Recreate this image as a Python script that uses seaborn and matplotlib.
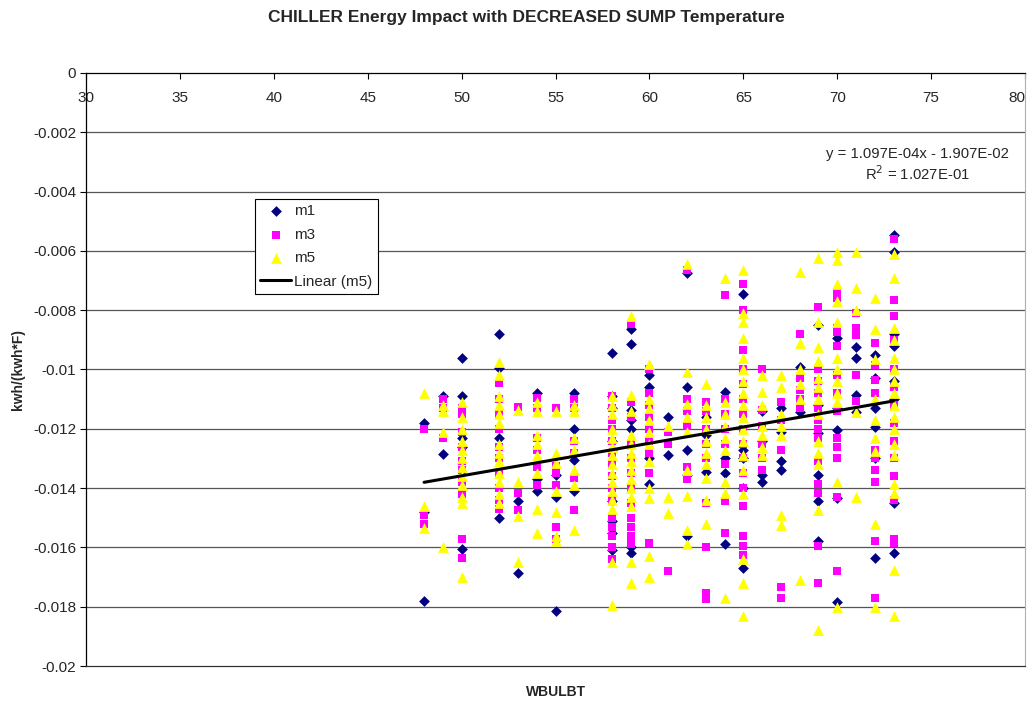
import matplotlib
matplotlib.use("Agg")
import matplotlib.pyplot as plt
import numpy as np
import pandas as pd
import seaborn as sns
from matplotlib.ticker import FixedLocator

sns.set_style("white")
plt.rcParams['font.family'] = ['Liberation Sans', 'DejaVu Sans']

# readings per WBULBT column, in 1e-3 kwh/(kwh*F)
m1 = {
    48: [-11.8, -14.8, -17.8],
    49: [-10.9, -12.85],
    50: [-9.6, -10.9, -12.3, -12.6, -16.05],
    52: [-8.8, -9.95, -12.3, -15.0],
    53: [-14.45, -16.85],
    54: [-10.8, -13.7, -14.1],
    55: [-13.55, -14.3, -18.15],
    56: [-10.8, -12.0, -13.05, -14.1],
    58: [-9.45, -10.9, -11.3, -12.4, -12.7, -14.45, -15.1, -15.5, -16.1],
    59: [-8.65, -9.15, -11.35, -11.7, -12.0, -16.0, -16.2],
    60: [-10.2, -10.6, -13.0, -13.85],
    61: [-11.6, -12.9],
    62: [-6.75, -10.6, -12.7, -13.55, -15.6],
    63: [-11.6, -12.2, -13.45],
    64: [-10.75, -13.0, -13.5, -15.9],
    65: [-7.45, -12.7, -13.0, -14.0, -16.7],
    66: [-11.4, -12.4, -13.55, -13.8],
    67: [-11.3, -12.1, -13.1, -13.4],
    68: [-9.9, -11.45],
    69: [-8.5, -11.2, -12.15, -13.55, -14.45, -15.8],
    70: [-8.95, -11.3, -12.05, -14.35, -17.85],
    71: [-9.25, -9.6, -10.85, -11.45],
    72: [-9.5, -10.3, -11.3, -11.95, -13.0, -16.35],
    73: [-5.45, -6.05, -8.8, -9.2, -10.4, -11.0, -14.5, -16.2],
}

m3 = {
    48: [-12.0, -14.9, -15.2],
    49: [-11.0, -11.3, -12.3],
    50: [-11.3, -11.5, -12.1, -12.6, -13.1, -13.4, -13.8, -14.2, -15.7, -16.35],
    52: [-10.45, -11.0, -11.5, -12.0, -12.6, -13.0, -13.5, -14.0, -14.4, -14.7],
    53: [-11.25, -14.15, -14.75],
    54: [-10.95, -11.3, -12.3, -12.7, -13.3, -13.9],
    55: [-11.3, -13.25, -13.5, -13.9, -15.3, -15.7],
    56: [-11.0, -11.3, -12.4, -12.8, -13.65, -14.75],
    58: [-10.9, -11.3, -11.7, -12.0, -12.4, -12.8, -13.2, -13.6, -14.0, -14.4,
         -15.0, -15.3, -15.6, -16.0, -16.4],
    59: [-8.45, -11.1, -11.6, -12.5, -13.0, -13.5, -14.0, -14.5, -15.0, -15.3,
         -15.6, -15.9],
    60: [-10.0, -10.8, -11.2, -11.6, -12.0, -12.4, -12.8, -13.5, -15.85],
    61: [-12.1, -12.5, -16.8],
    62: [-6.65, -11.0, -11.4, -11.9, -13.3, -13.7],
    63: [-11.1, -11.4, -12.0, -12.5, -13.0, -14.5, -16.0, -17.55, -17.75],
    64: [-7.5, -11.0, -11.5, -12.0, -12.5, -13.2, -14.45, -15.5],
    65: [-7.1, -8.0, -9.35, -10.0, -10.5, -11.0, -11.5, -12.0, -12.5, -13.0,
         -13.5, -14.0, -14.6, -15.6, -15.95, -16.25],
    66: [-10.0, -11.35, -11.9, -12.5, -13.0, -13.4],
    67: [-11.1, -11.7, -12.7, -17.35, -17.7],
    68: [-8.8, -10.3, -10.7, -11.0, -11.3],
    69: [-7.9, -10.0, -10.4, -10.8, -11.3, -11.7, -12.0, -12.3, -13.1, -13.85,
         -14.15, -15.95, -17.2],
    70: [-7.4, -7.6, -8.6, -8.75, -9.2, -10.2, -10.8, -11.4, -12.3, -12.6,
         -13.0, -14.3, -16.8],
    71: [-8.1, -8.6, -8.85, -10.2, -11.05],
    72: [-9.1, -9.85, -10.35, -10.8, -12.7, -13.0, -13.4, -13.8, -15.8, -17.7],
    73: [-5.6, -7.65, -8.2, -9.0, -10.0, -10.6, -11.2, -11.8, -12.4, -13.0,
         -13.6, -14.4, -15.7, -15.85],
}

m5 = {
    48: [-10.8, -14.6, -15.35],
    49: [-11.2, -11.4, -12.1, -16.0],
    50: [-11.1, -11.6, -12.0, -12.4, -12.7, -13.0, -13.3, -13.6, -13.9, -14.3,
         -14.5, -17.0],
    52: [-9.75, -10.2, -10.9, -11.2, -11.5, -11.8, -12.5, -12.8, -13.1, -13.5,
         -13.8, -14.2, -14.5],
    53: [-11.35, -13.8, -14.95, -16.5],
    54: [-11.1, -11.4, -12.2, -12.5, -12.9, -13.5, -14.7, -15.5],
    55: [-11.4, -12.8, -13.15, -14.1, -14.8, -15.6, -15.8],
    56: [-11.2, -11.4, -12.3, -12.7, -13.4, -13.9, -15.4],
    58: [-10.9, -11.2, -11.5, -12.0, -12.3, -12.6, -12.9, -13.2, -13.5, -13.8,
         -14.1, -14.4, -14.7, -16.5, -17.95],
    59: [-8.2, -10.85, -11.4, -12.2, -12.5, -12.8, -13.1, -13.4, -13.7, -14.0,
         -14.3, -14.6, -16.5, -17.2],
    60: [-9.8, -11.0, -11.3, -11.7, -12.1, -12.5, -13.1, -14.0, -14.35, -16.3,
         -17.0],
    61: [-11.9, -14.3, -14.85],
    62: [-6.45, -10.1, -11.15, -11.6, -12.1, -13.4, -14.25, -15.4, -15.9],
    63: [-10.5, -11.2, -11.6, -12.0, -12.4, -12.8, -13.2, -13.65, -14.4, -15.2],
    64: [-6.9, -11.1, -11.5, -11.9, -12.3, -12.7, -13.8, -14.15, -17.7],
    65: [-6.65, -8.1, -8.4, -8.95, -9.6, -10.0, -10.4, -10.8, -11.2, -11.6,
         -12.0, -12.4, -12.9, -13.4, -14.2, -16.4, -17.2, -18.3],
    66: [-10.2, -10.75, -11.2, -11.9, -12.2, -12.6, -12.9],
    67: [-10.2, -10.6, -11.5, -11.9, -12.2, -14.9, -15.25],
    68: [-6.7, -9.1, -10.0, -10.5, -11.0, -17.1],
    69: [-6.25, -8.4, -9.25, -9.7, -10.3, -10.6, -11.0, -11.5, -12.4, -12.8,
         -13.2, -14.75, -18.8],
    70: [-6.05, -6.3, -7.1, -7.7, -8.4, -9.6, -10.0, -10.4, -10.8, -11.1,
         -13.8, -18.0],
    71: [-6.05, -7.25, -8.0, -11.45, -14.3],
    72: [-7.6, -8.65, -9.65, -11.0, -11.7, -12.3, -12.75, -15.2, -18.0],
    73: [-6.1, -6.9, -8.6, -9.0, -9.6, -10.0, -10.4, -10.8, -11.2, -11.6, -12.0,
         -12.5, -12.9, -13.85, -14.15, -16.75, -18.3],
}

# Excel linear trendline on m5
trend_slope = 1.097e-4
trend_intercept = -1.907e-2
trend_x = [48, 73]

x_ticks = [30, 35, 40, 45, 50, 55, 60, 65, 70, 75, 80]
y_ticks = [0, -0.002, -0.004, -0.006, -0.008, -0.01, -0.012, -0.014, -0.016, -0.018, -0.02]
y_tick_labels = ["0", "-0.002", "-0.004", "-0.006", "-0.008", "-0.01", "-0.012",
                 "-0.014", "-0.016", "-0.018", "-0.02"]


def to_frame(d):
    rows = [(x, v * 1e-3) for x, vals in d.items() for v in vals]
    return pd.DataFrame(rows, columns=["WBULBT", "kwh"])


fig = plt.figure(figsize=(10.31, 7.01), dpi=100)
ax = fig.add_axes([0.0834, 0.0499, 0.9108, 0.846])

sns.scatterplot(data=to_frame(m1), x="WBULBT", y="kwh", ax=ax, marker="D", s=30,
                color="#000080", edgecolor="#000080", linewidth=0, label="m1", zorder=3)
sns.scatterplot(data=to_frame(m3), x="WBULBT", y="kwh", ax=ax, marker="s", s=38,
                color="#FF00FF", edgecolor="#FF00FF", linewidth=0, label="m3", zorder=4)
sns.scatterplot(data=to_frame(m5), x="WBULBT", y="kwh", ax=ax, marker="^", s=60,
                color="#FFFF00", edgecolor="#FFFF00", linewidth=0, label="m5", zorder=5)

trend = pd.DataFrame({"WBULBT": trend_x})
trend["kwh"] = trend_slope * trend["WBULBT"] + trend_intercept
sns.lineplot(data=trend, x="WBULBT", y="kwh", ax=ax, color="black", linewidth=2.2,
             label="Linear (m5)", zorder=6)

ax.set_xlim(30, 80)
ax.set_ylim(-0.02, 0)
ax.xaxis.set_major_locator(FixedLocator(x_ticks))
ax.yaxis.set_major_locator(FixedLocator(y_ticks))
ax.set_yticklabels(y_tick_labels)
ax.set_xticklabels([str(t) for t in x_ticks])

for y in y_ticks[1:-1]:
    ax.axhline(y, color="#555555", linewidth=0.9, zorder=1)

ax.tick_params(axis="x", top=True, bottom=False, labeltop=True, labelbottom=False,
               direction="in", length=4, width=0.8, color="black", pad=-23, labelsize=11)
ax.tick_params(axis="y", left=True, direction="out", length=4, width=0.8,
               color="black", pad=3, labelsize=11)
# last x label sits right at the figure edge; nudge it inward like the original
ax.get_xticklabels()[-1].set_horizontalalignment("right")

for side in ["left", "top"]:
    ax.spines[side].set_color("black")
    ax.spines[side].set_linewidth(0.9)
ax.spines["right"].set_color("#b0b0b0")
ax.spines["right"].set_linewidth(0.8)
ax.spines["bottom"].set_color("#333333")
ax.spines["bottom"].set_linewidth(0.9)

ax.set_xlabel("WBULBT", fontsize=10, fontweight="bold", labelpad=14)
ax.set_ylabel("kwh/(kwh*F)", fontsize=10, fontweight="bold", labelpad=6)
fig.text(0.511, 0.975, "CHILLER Energy Impact with DECREASED SUMP Temperature",
         ha="center", va="center", fontsize=12.5, fontweight="bold")

ax.text(0.885, 0.864, "y = 1.097E-04x - 1.907E-02", transform=ax.transAxes,
        ha="center", va="center", fontsize=10.7)
ax.text(0.885, 0.830, "R$^2$ = 1.027E-01", transform=ax.transAxes,
        ha="center", va="center", fontsize=10.7)

leg = ax.legend(loc="upper left", bbox_to_anchor=(0.18, 0.7875), fontsize=11,
                frameon=True, fancybox=False, framealpha=1, edgecolor="black",
                borderpad=0.35, labelspacing=0.62, handlelength=2.0, handletextpad=0.2,
                borderaxespad=0)
leg.get_frame().set_linewidth(0.8)

fig.savefig("out.png", dpi=100)
